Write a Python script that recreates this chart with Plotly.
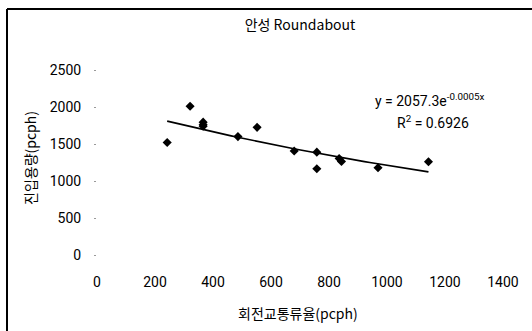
import numpy as np
import plotly.graph_objects as go

flow_x = [242, 321, 366, 366, 366, 486, 552, 680, 758, 758, 835, 843, 969, 1143]
cap_y = [1520, 2010, 1795, 1760, 1740, 1600, 1725, 1405, 1390, 1165, 1305, 1265, 1180, 1260]
fit_a = 2057.3
fit_b = -0.00053
x_ticks = [0, 200, 400, 600, 800, 1000, 1200, 1400]
y_ticks = [0, 500, 1000, 1500, 2000, 2500]

fx = np.linspace(min(flow_x), max(flow_x), 50)
fy = fit_a * np.exp(fit_b * fx)

FONT = "Roboto, Liberation Sans, sans-serif"
KFONT = "Noto Sans CJK KR, sans-serif"

PX_PER_UNIT = 185 / 2500
Y_BOTTOM = -(300 - 255) / PX_PER_UNIT
pw, ph = 406, 230
def px_to_paper(px, py):
    return (px - 97) / pw, (300 - py) / ph

fig = go.Figure()
fig.add_trace(go.Scatter(x=fx, y=fy, mode="lines", line=dict(color="black", width=1.7), showlegend=False))
fig.add_trace(go.Scatter(x=flow_x, y=cap_y, mode="markers",
                         marker=dict(symbol="diamond", size=7, color="black"), showlegend=False))
label_y = -(283 - 255) / PX_PER_UNIT
for v in x_ticks:
    fig.add_trace(go.Scatter(x=[v], y=[label_y], mode="text", text=[str(v)],
                             textposition="middle center",
                             textfont=dict(size=14, family=FONT, color="black"),
                             cliponaxis=False, showlegend=False, hoverinfo="skip"))

fig.update_layout(
    width=532, height=331,
    margin=dict(l=97, r=29, t=70, b=31),
    paper_bgcolor="white", plot_bgcolor="white",
    font=dict(family=FONT, size=14, color="black"),
    title=dict(text="안성 Roundabout", x=0.5, xref="paper", xanchor="center",
               y=1 - 25 / 331, yanchor="middle", font=dict(size=14, family=KFONT)),
    xaxis=dict(range=[0, 1400], tickmode="array", tickvals=x_ticks,
               showticklabels=False, showgrid=False, zeroline=False, automargin=False,
               showline=False, ticks=""),
    yaxis=dict(range=[Y_BOTTOM, 2500], tickmode="array", tickvals=y_ticks,
               ticktext=[str(v) for v in y_ticks], showgrid=False, zeroline=False,
               showline=False, ticks="outside", ticklen=2, tickcolor="#999",
               ticklabelstandoff=10, automargin=False),
)

tx, ty = px_to_paper(30, 158)
fig.add_annotation(x=tx, y=ty, xref="paper", yref="paper", text="진입용량(pcph)", showarrow=False,
                   textangle=-90, xanchor="center", yanchor="middle", font=dict(size=14, family=KFONT))
tx, ty = px_to_paper(298, 313)
fig.add_annotation(x=tx, y=ty, xref="paper", yref="paper", text="회전교통류율(pcph)", showarrow=False,
                   xanchor="center", yanchor="middle", font=dict(size=14, family=KFONT))

ax, ay = px_to_paper(373, 100)
fig.add_annotation(x=ax, y=ay, xref="paper", yref="paper", text="y = 2057.3e<sup>-0.0005x</sup>",
                   showarrow=False, xanchor="left", yanchor="middle", font=dict(size=14))
ax, ay = px_to_paper(395, 122)
fig.add_annotation(x=ax, y=ay, xref="paper", yref="paper", text="R<sup>2</sup> = 0.6926",
                   showarrow=False, xanchor="left", yanchor="middle", font=dict(size=14))

x0, y0 = px_to_paper(7, 9)
x1, _ = px_to_paper(532, 9)
_, y2 = px_to_paper(7, 331)
fig.add_shape(type="line", xref="paper", yref="paper", x0=x0, y0=y0, x1=x1, y1=y0,
              line=dict(color="black", width=2))
fig.add_shape(type="line", xref="paper", yref="paper", x0=x0, y0=y0, x1=x0, y1=y2,
              line=dict(color="black", width=2))

fig.write_html("out.html")
